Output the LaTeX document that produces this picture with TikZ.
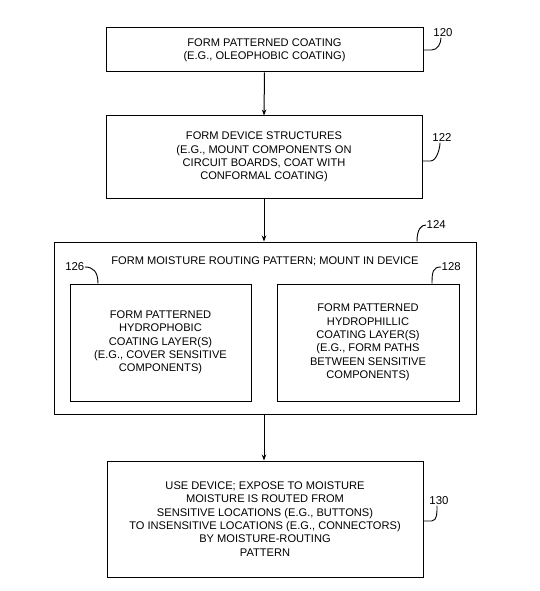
\documentclass[tikz,border=0pt]{standalone}
\usepackage{fontspec}
\setmainfont{Liberation Sans}
\usetikzlibrary{arrows.meta}
\tikzset{
  stepbox/.style={draw,line width=1pt,align=center,inner sep=0pt,
    font=\fontsize{11.1}{13.3}\selectfont},
  reflabel/.style={inner sep=0.5pt,font=\fontsize{11.4}{12}\selectfont},
  flow/.style={line width=1pt,-{Stealth[length=6pt,width=4.5pt]}},
  leader/.style={line width=0.9pt}
}

\begin{document}
\begin{tikzpicture}[x=1pt,y=-1pt]
  \useasboundingbox (0,0) rectangle (540,591);
  \node (n120) [stepbox,minimum width=317pt,minimum height=44pt] at (264.5,50)
    {FORM PATTERNED COATING\\(E.G., OLEOPHOBIC COATING)};
  \node (n122) [stepbox,minimum width=316pt,minimum height=82pt] at (264,157)
    {FORM DEVICE STRUCTURES\\(E.G., MOUNT COMPONENTS ON\\CIRCUIT BOARDS, COAT WITH\\CONFORMAL COATING)};
  \node (n124) [stepbox,minimum width=422pt,minimum height=172pt] at (265,328) {};
  \node (t124) [stepbox,draw=none] at (265,261)
    {FORM MOISTURE ROUTING PATTERN; MOUNT IN DEVICE};
  \node (n126) [stepbox,minimum width=181pt,minimum height=117pt] at (160.5,342.5)
    {FORM PATTERNED\\HYDROPHOBIC\\COATING LAYER(S)\\(E.G., COVER SENSITIVE\\COMPONENTS)};
  \node (n128) [stepbox,minimum width=182pt,minimum height=117pt] at (368,342.5)
    {FORM PATTERNED\\HYDROPHILLIC\\COATING LAYER(S)\\(E.G., FORM PATHS\\BETWEEN SENSITIVE\\COMPONENTS)};
  \node (n130) [stepbox,minimum width=316pt,minimum height=116pt] at (265,519)
    {USE DEVICE; EXPOSE TO MOISTURE\\MOISTURE IS ROUTED FROM\\SENSITIVE LOCATIONS (E.G., BUTTONS)\\TO INSENSITIVE LOCATIONS (E.G., CONNECTORS)\\BY MOISTURE-ROUTING\\PATTERN};

  % reference numerals
  \node (l120) [reflabel] at (443,33) {120};
  \node (l122) [reflabel] at (442,138) {122};
  \node (l124) [reflabel,anchor=west] at (426,225) {124};
  \node (l126) [reflabel,anchor=east] at (85,267) {126};
  \node (l128) [reflabel,anchor=west] at (441,267) {128};
  \node (l130) [reflabel] at (439,501) {130};

  \draw[leader] (n120.east) -- ++(8,0) .. controls +(6,0) and +(0,6) .. ([xshift=-2pt]l120.south);
  \draw[leader] ([yshift=-4pt]n122.east) -- ++(8,0) .. controls +(6,0) and +(0,6) .. ([xshift=-2pt]l122.south);
  \draw[leader] ([xshift=152pt]n124.north) .. controls +(0,-12) and +(-5,0) .. (l124.west);
  \draw[leader] (l126.east) .. controls +(8,0) and +(0,-12) .. ([xshift=-62.5pt]n126.north);
  \draw[leader] ([xshift=64pt]n128.north) .. controls +(0,-12) and +(-8,0) .. (l128.west);
  \draw[leader] ([yshift=-2pt]n130.east) -- ++(8,0) .. controls +(6,0) and +(0,6) .. ([xshift=-2pt]l130.south);

  % flow arrows
  \draw[flow] (n120.south) -- (n122.north);
  \draw[flow] (n122.south) -- (n124.north -| n122.south);
  \draw[flow] (n124.south -| n122.south) -- (n130.north -| n122.south);
\end{tikzpicture}
\end{document}
